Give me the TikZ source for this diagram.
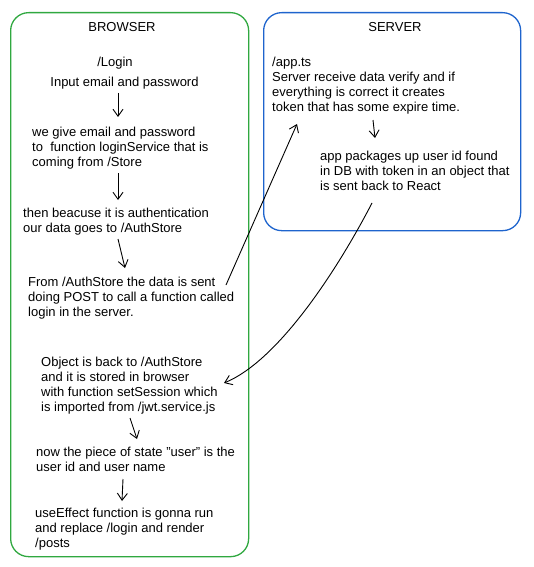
\documentclass[tikz,border=0pt]{standalone}
\usepackage{fontspec}
\setmainfont{Liberation Sans}
\usetikzlibrary{arrows.meta}
\definecolor{bgreen}{RGB}{48,168,64}
\definecolor{sblue}{RGB}{30,100,205}
\begin{document}
\begin{tikzpicture}[x=1pt,y=-1pt,
  txt/.style={anchor=base west, inner sep=0pt, align=left, font=\fontsize{13}{15}\selectfont},
  ttl/.style={anchor=base, inner sep=0pt, font=\fontsize{13}{15}\selectfont},
  conn/.style={line width=0.9pt, -{Straight Barb[length=7pt,width=10pt]}},
  panel/.style={line width=1.3pt, rounded corners=18pt, minimum width=#1, anchor=north west, inner sep=0pt}]
\useasboundingbox (0,0) rectangle (534,567);
% panels
\node[panel=238pt, draw=bgreen, minimum height=544pt] (browser) at (10,12) {};
\node[panel=257pt, draw=sblue, minimum height=218pt] (server) at (263,12) {};
% titles
\node[ttl] (tb) at (122,32) {BROWSER};
\node[ttl] (ts) at (395,32) {SERVER};
% browser texts (anchor = baseline of last line)
\node[ttl] (login) at (115,66.5) {/Login};
\node[ttl] (input) at (124.5,86.5) {Input email and password};
\node[txt] (give) at (32,166.5) {we give email and password\\to~~function loginService that is\\coming from /Store};
\node[txt] (then) at (23,232.5) {then beacuse it is authentication\\our data goes to /AuthStore};
\node[txt] (from) at (28,316.5) {From /AuthStore the data is sent\\doing POST to call a function called\\login in the server.};
\node[txt] (obj) at (41,411.5) {Object is back to /AuthStore\\and it is stored in browser\\with function setSession which\\is imported from /jwt.service.js};
\node[txt] (now) at (36,471.5) {now the piece of state "user" is the\\user id and user name};
\node[txt] (use) at (35,547.5) {useEffect function is gonna run\\and replace /login and render\\/posts};
% server texts
\node[txt] (app) at (272,111.5) {/app.ts\\Server receive data verify and if\\everything is correct it creates\\token that has some expire time.};
\node[txt] (pack) at (320,190.5) {app packages up user id found\\in DB with token in an object that\\is sent back to React};
% arrow end points
\coordinate (a1s) at (118,93);  \coordinate (a1e) at (118,117);
\coordinate (a2s) at (118,173); \coordinate (a2e) at (118,200);
\coordinate (a3s) at (118,239); \coordinate (a3e) at (125,268);
\coordinate (a4s) at (226,285); \coordinate (a4e) at (297,124);
\coordinate (a5s) at (373,120); \coordinate (a5e) at (375,138);
\coordinate (a6s) at (372,203); \coordinate (a6e) at (224,383);
\coordinate (a7s) at (130,418); \coordinate (a7e) at (137,439);
\coordinate (a8s) at (123,479); \coordinate (a8e) at (122,501);
% connectors
\draw[conn] (a1s) -- (a1e);
\draw[conn] (a2s) -- (a2e);
\draw[conn] (a3s) -- (a3e);
\draw[conn] (a4s) -- (a4e);
\draw[conn] (a5s) -- (a5e);
\draw[conn] (a6s) .. controls (340,265) and (280,360) .. (a6e);
\draw[conn] (a7s) -- (a7e);
\draw[conn] (a8s) -- (a8e);
\end{tikzpicture}
\end{document}
